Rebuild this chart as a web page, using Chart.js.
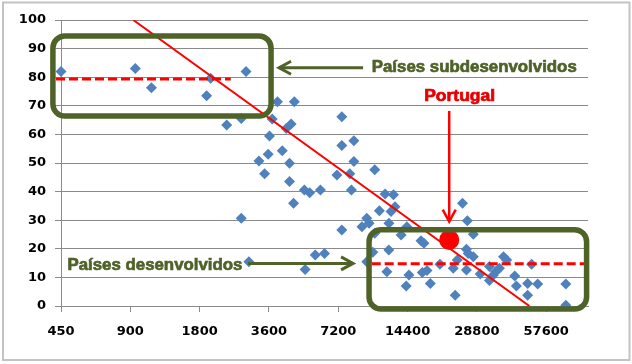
<!DOCTYPE html>
<html>
<head>
<meta charset="utf-8">
<script src="https://cdn.jsdelivr.net/npm/chart.js@4.4.1/dist/chart.umd.min.js"></script>
<style>
  html, body { margin: 0; padding: 0; background: #fff; }
</style>
</head>
<body>
<canvas id="chart" width="632" height="364"></canvas>
<script>
// x axis: income (log2 scale), y axis: share (%)
const xTicks = [450, 900, 1800, 3600, 7200, 14400, 28800, 57600];

const income = [
  450, 946, 1112, 1931, 2010, 2863, 2360, 2729, 3919, 4640,
  3720, 4280, 4495, 3620, 4113, 3257, 3573, 4422, 3446, 4422,
  5130, 5410, 6026, 4604, 2729, 2945, 5170, 5720, 6275, 7460,
  7460, 8420, 8420, 7105, 8083, 10373, 8215, 7460, 9122, 9573,
  9800, 10860, 12200, 12700, 11500, 12500, 11950, 13500, 14300, 10373,
  10170, 11940, 9573, 11710, 14600, 14200, 16470, 16960, 16690, 17490,
  18080, 19900, 22740, 23190, 24940, 26170, 27800, 25950, 26400, 27800,
  25950, 23670, 29770, 32660, 32660, 34700, 36100, 33990, 37590, 38800,
  42070, 42750, 49800, 47850, 47850, 52900, 70100, 70100
];
const share = [
  82, 83, 76.3, 73.5, 79.6, 82, 63.3, 65.6, 71.4, 71.4,
  65.4, 62.1, 63.6, 59.4, 54.3, 50.7, 53.1, 49.9, 46.2, 43.5,
  40.6, 39.6, 40.6, 35.9, 30.7, 15.5, 12.8, 17.8, 18.4, 66.2,
  56.1, 57.8, 50.5, 45.8, 46.2, 47.6, 40.6, 26.6, 27.7, 30.7,
  28.9, 33.3, 33.0, 34.7, 39.2, 38.9, 28.9, 24.8, 27.7, 25.4,
  18.8, 19.6, 15.5, 12.0, 10.8, 7.0, 22.8, 21.9, 11.7, 12.4,
  7.9, 14.6, 13.2, 3.8, 35.9, 29.8, 25.1, 19.8, 18.4, 17.2,
  12.6, 16.1, 11.2, 8.9, 13.8, 12.0, 13.2, 10.8, 17.2, 16.1,
  10.5, 7.0, 14.6, 7.9, 3.8, 7.7, 7.7, 0.3
];

const portugalIncome = [21840];
const portugalShare = [23.1];

const trendIncome = [927, 48700];
const trendShare = [100, 0];

const poorAvgIncome = [428, 2457];
const poorAvgShare = [79.4, 79.4];
const richAvgIncome = [10060, 86300];
const richAvgShare = [14.8, 14.8];

const toPoints = (xs, ys) => xs.map((v, i) => ({ x: v, y: ys[i] }));

const GREEN = '#4F6228';
const RED = '#FF0000';
const GRID = '#8a8a8a';

function arrow(ctx, x1, y1, x2, y2, color, w, head, spread) {
  const a = Math.atan2(y2 - y1, x2 - x1);
  ctx.strokeStyle = color;
  ctx.lineWidth = w;
  ctx.beginPath();
  ctx.moveTo(x1, y1);
  ctx.lineTo(x2, y2);
  ctx.stroke();
  ctx.beginPath();
  ctx.moveTo(x2 - head * Math.cos(a) + spread * Math.sin(a), y2 - head * Math.sin(a) - spread * Math.cos(a));
  ctx.lineTo(x2, y2);
  ctx.lineTo(x2 - head * Math.cos(a) - spread * Math.sin(a), y2 - head * Math.sin(a) + spread * Math.cos(a));
  ctx.stroke();
}

// text squeezed to a given width, left edge + vertical middle
function fitText(ctx, text, left, mid, width, size, color) {
  ctx.font = 'bold ' + size + 'px "Liberation Sans", Arial, sans-serif';
  ctx.fillStyle = color;
  ctx.strokeStyle = color;
  ctx.lineWidth = 0.7;
  ctx.textBaseline = 'middle';
  ctx.textAlign = 'left';
  const m = ctx.measureText(text).width;
  ctx.save();
  ctx.translate(left, mid);
  ctx.scale(width / m, 1);
  ctx.fillText(text, 0, 0);
  ctx.strokeText(text, 0, 0);
  ctx.restore();
}

const notesPlugin = {
  id: 'notes',
  beforeDraw(chart) {
    const ctx = chart.ctx;
    ctx.save();
    ctx.fillStyle = '#fff';
    ctx.fillRect(0, 0, chart.width, chart.height);
    ctx.strokeStyle = '#c3c3c3';
    ctx.lineWidth = 2;
    ctx.strokeRect(3, 2.5, chart.width - 5.5, chart.height - 6.5);
    ctx.restore();
  },
  afterDatasetsDraw(chart) {
    const ctx = chart.ctx;
    const x = chart.scales.x, y = chart.scales.y;
    const px = v => x.getPixelForValue(v);
    const py = v => y.getPixelForValue(v);
    ctx.save();

    // group boxes
    const boxes = [
      { x0: 415, x1: 3677, y0: 94.4, y1: 66.4 },
      { x0: 9797, x1: 86270, y0: 26.7, y1: -1.05 }
    ];
    boxes.forEach(b => {
      const l = px(b.x0), r = px(b.x1), t = py(b.y0), bt = py(b.y1);
      ctx.beginPath();
      ctx.roundRect(l, t, r - l, bt - t, 12);
      ctx.lineWidth = 5.5;
      ctx.strokeStyle = GREEN;
      ctx.stroke();
    });

    // arrows
    arrow(ctx, px(9228), py(83.3), px(3983), py(83.3), GREEN, 3, 12, 6.5);
    arrow(ctx, px(2921), py(14.9), px(8350), py(14.9), GREEN, 3, 12, 6.5);
    arrow(ctx, px(21840), py(68.2), px(21840), py(29.5), RED, 2.5, 12, 6.5);

    // labels
    fitText(ctx, 'Países subdesenvolvidos', px(10066), py(83.3), 205, 17, GREEN);
    fitText(ctx, 'Países desenvolvidos', px(480), py(14.3), 175, 17, GREEN);
    fitText(ctx, 'Portugal', px(17000), py(73.2), 71, 16, '#E80000');

    ctx.restore();
  }
};

new Chart(document.getElementById('chart'), {
  data: {
    datasets: [
      {
        type: 'scatter',
        data: toPoints(portugalIncome, portugalShare),
        pointStyle: 'circle',
        pointRadius: 10,
        backgroundColor: RED,
        borderWidth: 0,
        order: 0
      },
      {
        type: 'line',
        data: toPoints(trendIncome, trendShare),
        borderColor: RED,
        borderWidth: 2,
        pointRadius: 0,
        fill: false,
        order: 1
      },
      {
        type: 'line',
        data: toPoints(poorAvgIncome, poorAvgShare),
        borderColor: RED,
        borderWidth: 3,
        borderDash: [9, 4],
        pointRadius: 0,
        fill: false,
        clip: false,
        order: 2
      },
      {
        type: 'line',
        data: toPoints(richAvgIncome, richAvgShare),
        borderColor: RED,
        borderWidth: 3,
        borderDash: [9, 4],
        pointRadius: 0,
        fill: false,
        clip: false,
        order: 2
      },
      {
        type: 'scatter',
        data: toPoints(income, share),
        pointStyle: 'rectRot',
        pointRadius: 5.5,
        backgroundColor: '#4F81BD',
        borderWidth: 0,
        clip: false,
        order: 3
      }
    ]
  },
  options: {
    responsive: false,
    animation: false,
    events: [],
    layout: { padding: { left: 0, right: 44, top: 20, bottom: 0 } },
    plugins: {
      legend: { display: false },
      tooltip: { enabled: false }
    },
    scales: {
      x: {
        type: 'logarithmic',
        min: 450,
        max: 87500,
        afterBuildTicks: s => { s.ticks = xTicks.map(v => ({ value: v })); },
        afterFit: s => { s.height = 58; },
        ticks: {
          callback: v => String(v),
          autoSkip: false,
          maxRotation: 0,
          padding: 12,
          color: '#000',
          font: { family: 'DejaVu Sans', weight: 'bold', size: 13 }
        },
        grid: { drawOnChartArea: false, drawTicks: true, tickLength: 6, color: GRID },
        border: { color: GRID }
      },
      y: {
        min: 0,
        max: 100,
        afterFit: s => { s.width = 61; },
        ticks: {
          stepSize: 10,
          padding: 9,
          color: '#000',
          font: { family: 'DejaVu Sans', weight: 'bold', size: 13 }
        },
        grid: { color: GRID, tickLength: 6 },
        border: { color: GRID }
      }
    }
  },
  plugins: [notesPlugin]
});
</script>
</body>
</html>
